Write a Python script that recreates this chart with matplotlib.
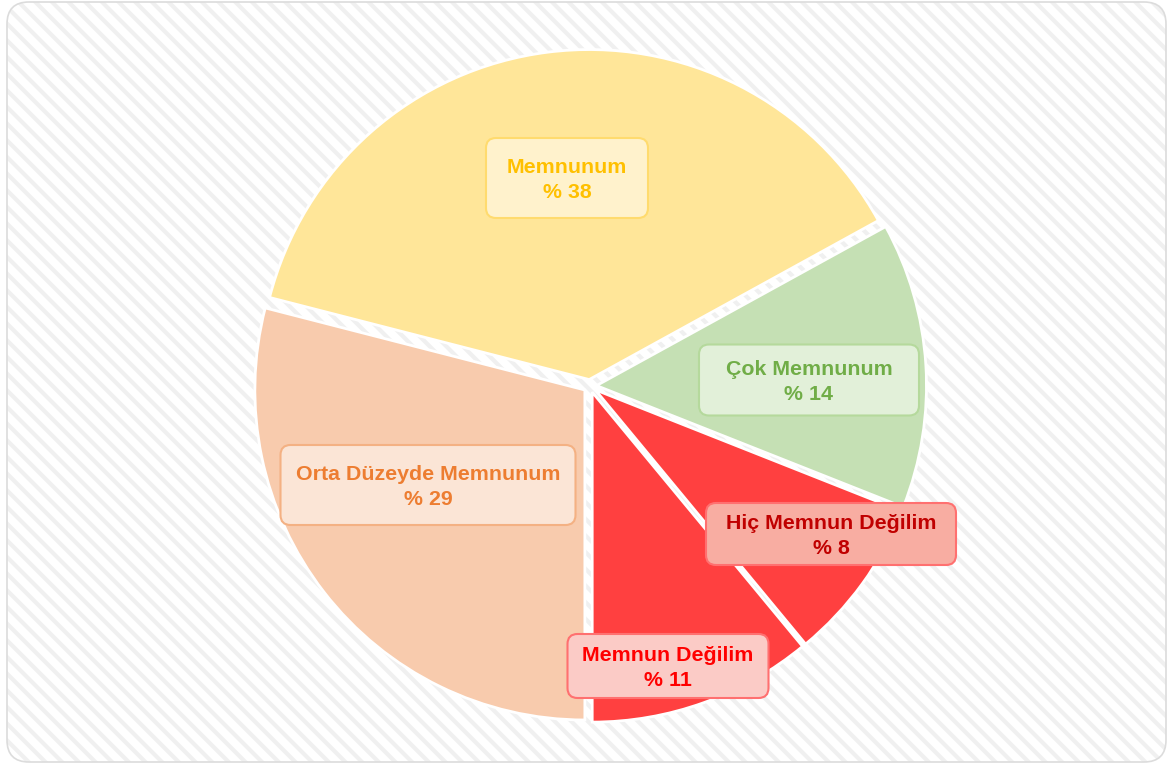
import matplotlib.pyplot as plt
from matplotlib.patches import FancyBboxPatch

plt.rcParams['hatch.linewidth'] = 3.0

# data
categories = ['Çok Memnunum', 'Memnunum', 'Orta Düzeyde Memnunum',
              'Memnun Değilim', 'Hiç Memnun Değilim']
shares = [14, 38, 29, 11, 8]

# styles
slice_colors = ['#C5E0B4', '#FFE699', '#F8CBAD', '#FF4040', '#FF4040']
text_colors = ['#70AD47', '#FFC000', '#ED7D31', '#FF0000', '#C00000']
box_faces = ['#E2F0D9', '#FFF2CC', '#FBE5D6', '#FBCBC6', '#F8ADA2']
box_edges = ['#B5D99C', '#FFDB6E', '#F4B183', '#FF7070', '#FF7070']

# layout (pixels, origin top-left)
W, H = 1168, 764
label_pos = [(809, 380), (567, 178), (428, 485), (668, 666), (831, 534)]
box_size = [(220, 71), (162, 80), (295, 80), (201, 64), (250, 62)]

fig = plt.figure(figsize=(W / 100, H / 100), dpi=100)
ax = fig.add_axes([0, 0, 1, 1])

# hatched rounded background
bg = FancyBboxPatch((7, 2), 1159, 760, boxstyle='round,pad=0,rounding_size=22',
                    facecolor='white', edgecolor='#F0F0F0', hatch='\\\\',
                    linewidth=0, zorder=0)
ax.add_patch(bg)
ax.add_patch(FancyBboxPatch((7, 2), 1159, 760, boxstyle='round,pad=0,rounding_size=22',
                            facecolor='none', edgecolor='#DCDCDC', linewidth=1.2, zorder=1))

ax.pie(shares, colors=slice_colors, startangle=-21.6, counterclock=True,
       center=(590, H - 386), radius=330, explode=[6.5] * len(shares),
       wedgeprops=dict(edgecolor='white', linewidth=2), frame=False)

for i, (cat, v) in enumerate(zip(categories, shares)):
    px, py = label_pos[i]
    bw, bh = box_size[i]
    ax.add_patch(FancyBboxPatch((px - bw / 2, H - py - bh / 2), bw, bh,
                                boxstyle='round,pad=0,rounding_size=10',
                                facecolor=box_faces[i], edgecolor=box_edges[i],
                                linewidth=1.5, zorder=5))
    ax.text(px, H - py - 2, f'{cat}\n% {v}', ha='center', va='center',
            multialignment='center', color=text_colors[i], fontsize=15.4,
            fontweight='bold', family='Liberation Sans', linespacing=1.36,
            zorder=6)

ax.set_xlim(0, W)
ax.set_ylim(0, H)
ax.set_aspect('auto')
ax.axis('off')

fig.savefig('out.png', dpi=100)
